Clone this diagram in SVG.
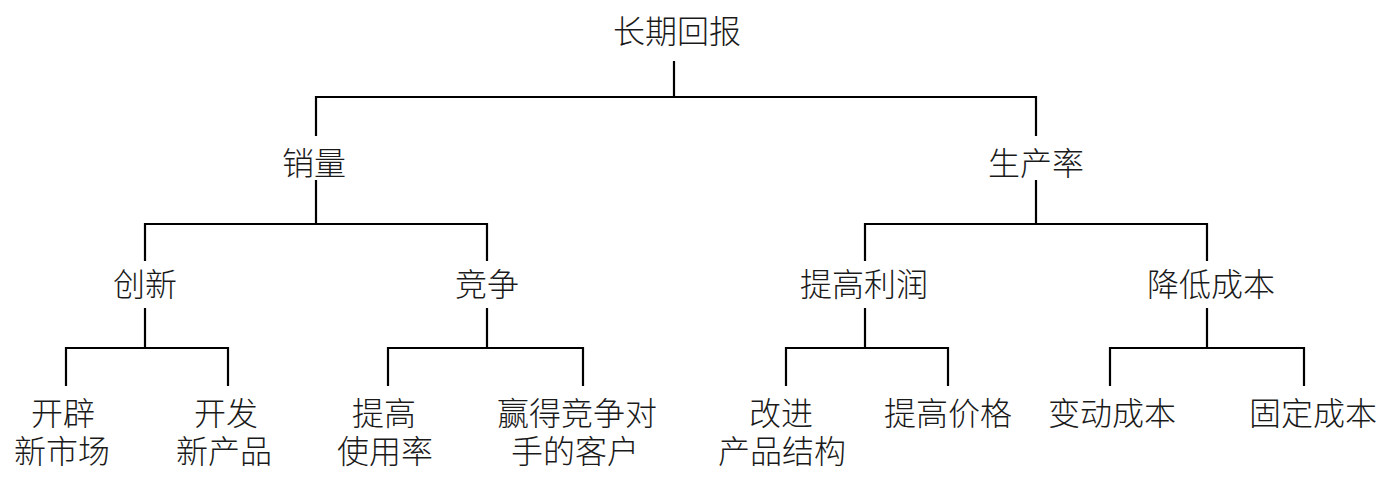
<svg xmlns="http://www.w3.org/2000/svg" width="1381" height="480" viewBox="0 0 1381 480">
<style>
text{font-family:"Liberation Sans","Noto Sans CJK SC",sans-serif;font-size:32px;font-weight:300;fill:#1a1a1a;text-anchor:middle}
.c{stroke:#000;stroke-width:2.2;fill:none;stroke-linecap:square}
</style>
<rect width="1381" height="480" fill="#fff"/>
<g id="connectors" class="c">
<path d="M674,62V97M316,135V97H1036V135"/>
<path d="M316,181V224M145,260V224H487V260"/>
<path d="M1036,181V224M865,260V224H1207V260"/>
<path d="M145,309V348M66,385V348H228V385"/>
<path d="M487,309V348M388,385V348H583V385"/>
<path d="M865,309V348M786,385V348H948V385"/>
<path d="M1207,309V348M1110,385V348H1304V385"/>
</g>
<g id="n-root"><text x="677" y="43">长期回报</text></g>
<g id="n-sales"><text x="314" y="175">销量</text></g>
<g id="n-prod"><text x="1036" y="175">生产率</text></g>
<g id="n-innov"><text x="145" y="296">创新</text></g>
<g id="n-comp"><text x="487" y="296">竞争</text></g>
<g id="n-profit"><text x="864" y="296">提高利润</text></g>
<g id="n-cost"><text x="1211" y="296">降低成本</text></g>
<g id="n-market"><text x="63" y="425">开辟</text><text x="62" y="463">新市场</text></g>
<g id="n-newprod"><text x="226" y="425">开发</text><text x="224" y="463">新产品</text></g>
<g id="n-usage"><text x="384" y="425">提高</text><text x="385" y="463">使用率</text></g>
<g id="n-win"><text x="577" y="425">赢得竞争对</text><text x="575" y="463">手的客户</text></g>
<g id="n-struct"><text x="781" y="425">改进</text><text x="782" y="463">产品结构</text></g>
<g id="n-price"><text x="948" y="425">提高价格</text></g>
<g id="n-var"><text x="1112" y="425">变动成本</text></g>
<g id="n-fixed"><text x="1313" y="425">固定成本</text></g>
</svg>
